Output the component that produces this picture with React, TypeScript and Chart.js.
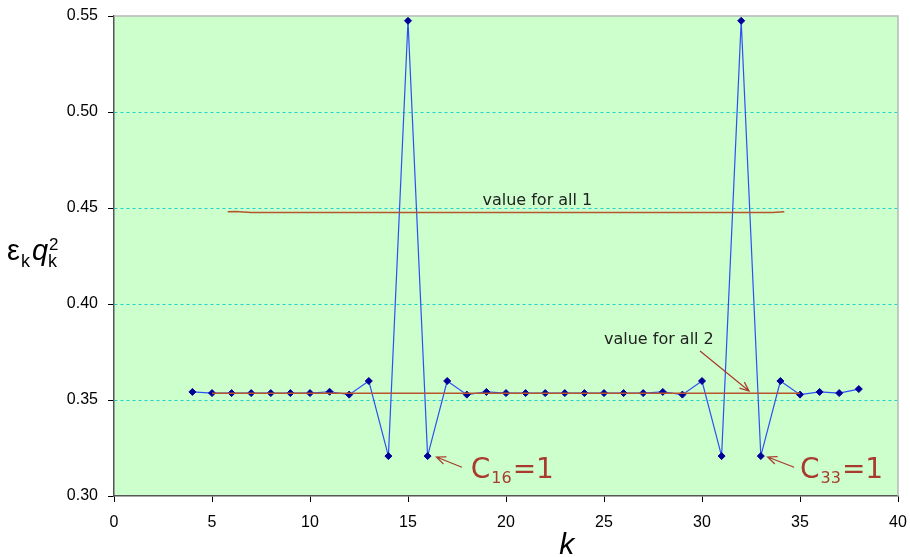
import React, { useEffect, useRef } from "react";
import { Chart, registerables } from "chart.js";
Chart.register(...registerables);

const kValues = [4,5,6,7,8,9,10,11,12,13,14,15,16,17,18,19,20,21,22,23,24,25,26,27,28,29,30,31,32,33,34,35,36,37,38];
const epsQ2 = [0.3542,0.3536,0.3536,0.3536,0.3536,0.3536,0.3536,0.3543,0.3528,0.3599,0.3208,0.5475,0.3208,0.3599,0.3528,0.3542,0.3536,0.3536,0.3536,0.3536,0.3536,0.3536,0.3536,0.3536,0.3542,0.3528,0.3599,0.3208,0.5475,0.3208,0.3599,0.3528,0.3542,0.3536,0.3557];
const all1K = [5.8, 6.2, 7.0, 10.0, 20.0, 30.0, 33.0, 33.6, 34.2];
const all1V = [0.4480, 0.4482, 0.4477, 0.4476, 0.4476, 0.4476, 0.4476, 0.4477, 0.4481];
const all2K = [5, 35];
const all2V = [0.3535, 0.3535];
const xTicks = [0, 40, 5];
const yTicks = [0.30, 0.55, 0.05];

export default function App() {
  const ref = useRef<HTMLCanvasElement>(null);
  useEffect(() => {
    const canvas = ref.current!;
    const red = "#a83a2e";
    const annot = {
      id: "annot",
      beforeDraw(chart: any) {
        const { ctx, chartArea: a } = chart;
        ctx.save();
        ctx.fillStyle = "#ccffcc";
        ctx.fillRect(a.left, a.top, a.right - a.left, a.bottom - a.top);
        ctx.restore();
      },
      afterDraw(chart: any) {
        const { ctx, chartArea: a, scales } = chart;
        const X = (v: number) => scales.x.getPixelForValue(v);
        const Y = (v: number) => scales.y.getPixelForValue(v);
        ctx.save();
        ctx.strokeStyle = "#b8b8b8";
        ctx.lineWidth = 1.5;
        ctx.beginPath();
        ctx.moveTo(a.left, a.top);
        ctx.lineTo(a.right, a.top);
        ctx.lineTo(a.right, a.bottom);
        ctx.stroke();
        ctx.fillStyle = "#222";
        ctx.font = "16px 'DejaVu Sans'";
        ctx.textAlign = "center";
        ctx.textBaseline = "middle";
        ctx.fillText("value for all 1", X(21.6), Y(0.4535));
        ctx.fillText("value for all 2", X(27.8), Y(0.3815));
        const arrow = (x1: number, y1: number, x2: number, y2: number) => {
          const px1 = X(x1), py1 = Y(y1), px2 = X(x2), py2 = Y(y2);
          ctx.strokeStyle = red;
          ctx.lineWidth = 1.2;
          ctx.beginPath();
          ctx.moveTo(px1, py1);
          ctx.lineTo(px2, py2);
          const ang = Math.atan2(py2 - py1, px2 - px1);
          const L = 10;
          ctx.moveTo(px2 - L * Math.cos(ang - 0.4), py2 - L * Math.sin(ang - 0.4));
          ctx.lineTo(px2, py2);
          ctx.lineTo(px2 - L * Math.cos(ang + 0.4), py2 - L * Math.sin(ang + 0.4));
          ctx.stroke();
        };
        arrow(29.9, 0.3755, 32.4, 0.3547);
        arrow(17.75, 0.3150, 16.45, 0.3203);
        arrow(34.7, 0.3150, 33.35, 0.3203);
        const cLabel = (k: number, v: number, sub: string) => {
          let x = X(k);
          const y = Y(v);
          ctx.fillStyle = red;
          ctx.textAlign = "left";
          ctx.textBaseline = "alphabetic";
          ctx.font = "28px 'DejaVu Sans'";
          ctx.fillText("C", x, y);
          x += ctx.measureText("C").width + 1;
          ctx.font = "16px 'DejaVu Sans'";
          ctx.fillText(sub, x, y + 5);
          x += ctx.measureText(sub).width + 1;
          ctx.font = "28px 'DejaVu Sans'";
          ctx.fillText("=1", x, y);
        };
        cLabel(18.2, 0.3092, "16");
        cLabel(35.0, 0.3095, "33");
        ctx.fillStyle = "#000";
        ctx.textAlign = "left";
        ctx.textBaseline = "alphabetic";
        let tx = 7;
        const ty = 260;
        ctx.font = "29px 'Liberation Sans'";
        ctx.fillText("ε", tx, ty);
        tx += ctx.measureText("ε").width + 1;
        ctx.font = "18px 'Liberation Sans'";
        ctx.fillText("k", tx, ty + 7);
        tx += ctx.measureText("k").width + 2;
        ctx.font = "italic 29px 'Liberation Sans'";
        ctx.fillText("q", tx, ty);
        tx += ctx.measureText("q").width;
        ctx.font = "18px 'Liberation Sans'";
        ctx.fillText("k", tx, ty + 7);
        ctx.font = "17px 'Liberation Sans'";
        ctx.fillText("2", tx + 1, ty - 10);
        ctx.font = "italic 30px 'Liberation Sans Narrow', 'Liberation Sans'";
        ctx.textAlign = "center";
        ctx.fillText("k", X(23.1), 554);
        ctx.restore();
      },
    };
    const chart = new Chart(canvas, {
      type: "line",
      data: {
        datasets: [
          {
            data: all1K.map((k, i) => ({ x: k, y: all1V[i] })),
            borderColor: "#b5552e",
            borderWidth: 1.5,
            pointRadius: 0,
            tension: 0,
          },
          {
            data: all2K.map((k, i) => ({ x: k, y: all2V[i] })),
            borderColor: "#b5552e",
            borderWidth: 1.5,
            pointRadius: 0,
          },
          {
            data: kValues.map((k, i) => ({ x: k, y: epsQ2[i] })),
            borderColor: "#2f4ff5",
            borderWidth: 1.2,
            pointStyle: "rectRot",
            pointRadius: 3.5,
            pointBackgroundColor: "#000099",
            pointBorderColor: "#000099",
            pointBorderWidth: 1,
          },
        ],
      },
      options: {
        animation: false,
        responsive: false,
        maintainAspectRatio: false,
        layout: { padding: { top: 16, right: 12, left: 0, bottom: 0 } },
        plugins: { legend: { display: false }, tooltip: { enabled: false } },
        scales: {
          x: {
            type: "linear",
            min: xTicks[0],
            max: xTicks[1],
            ticks: {
              stepSize: xTicks[2],
              color: "#000",
              font: { family: "'Liberation Sans Narrow', 'Liberation Sans'", size: 16 },
              padding: 11,
            },
            grid: { drawOnChartArea: false, drawTicks: true, tickLength: 6, tickColor: "#000" },
            border: { color: "#555", width: 1.5 },
            afterFit: (s: any) => { s.height = 557 - 496; s.paddingRight = 0; s.paddingLeft = 0; },
          },
          y: {
            type: "linear",
            min: yTicks[0],
            max: yTicks[1],
            ticks: {
              stepSize: yTicks[2],
              color: "#000",
              font: { family: "'Liberation Sans'", size: 16 },
              callback: (v: any) => Number(v).toFixed(2),
              padding: 10,
            },
            grid: {
              color: (c: any) => (c.tick && (Math.abs(c.tick.value - 0.3) < 1e-6 || Math.abs(c.tick.value - 0.55) < 1e-6) ? "rgba(0,0,0,0)" : "#20d0d0"),
              tickColor: "#000",
              tickLength: 6,
              lineWidth: 1,
              tickBorderDash: [],
            },
            border: { color: "#555", width: 1.5, dash: [3, 3] },
            afterFit: (s: any) => { s.width = 114; s.paddingTop = 0; s.paddingBottom = 0; },
          },
        },
      },
      plugins: [annot],
    } as any);
    return () => chart.destroy();
  }, []);
  return (
    <div style={{ position: "absolute", left: 0, top: 0, width: 910, height: 557 }}>
      <canvas ref={ref} width={910} height={557} style={{ width: 910, height: 557 }} />
    </div>
  );
}
